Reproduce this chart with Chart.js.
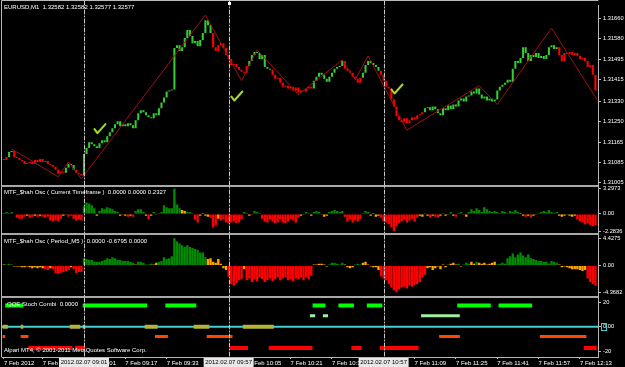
<!DOCTYPE html>
<html><head><meta charset="utf-8">
<script src="https://cdn.jsdelivr.net/npm/chart.js@4.4.0/dist/chart.umd.min.js"></script>
<style>
html,body{margin:0;padding:0;background:#000;}
#wrap{position:relative;width:625px;height:367px;background:#000;overflow:hidden;}
canvas{position:absolute;left:0;top:0;}
</style></head><body>
<div id="wrap"><canvas id="c" width="625" height="367"></canvas></div>
<script>
// ---------- DATA ----------
const symbolTitle = "EURUSD,M1  1.32582 1.32582 1.32577 1.32577";
const osc1Title = "MTF_$hah Osc ( Current Timeframe )  0.0000 0.0000 0.2327";
const osc2Title = "MTF_$hah Osc ( Period_M5 )  0.0000 -0.6795 0.0000";
const qqeTitle = "QQE Stoch Combi  0.0000";
const copyrightText = "Alpari MT4, \u00A9 2001-2011 MetaQuotes Software Corp.";

const timeTickIdx = [0,15,31,47,63,79,95,111,127,143,159,175,191,207,223];
const timeTickLabels = ["7 Feb 2012","7 Feb 08:45","7 Feb 09:01","7 Feb 09:17","7 Feb 09:33","7 Feb 09:49","7 Feb 10:05","7 Feb 10:21","7 Feb 10:37","7 Feb 10:53","7 Feb 11:09","7 Feb 11:25","7 Feb 11:41","7 Feb 11:57","7 Feb 12:13"];

const priceTicks = [1.31660,1.31580,1.31495,1.31415,1.31330,1.31250,1.31165,1.31085,1.31005];
const osc1TickValues = [3.2973, 0, -2.2836];
const osc1TickLabels = ["3.2973","0.00","-2.2836"];
const osc2TickValues = [4.4275, 0, -4.3682];
const osc2TickLabels = ["4.4275","0.00","-4.3682"];
const qqeTickValues = [20, 0, -20];
const qqeTickLabels = ["20","0.00","-20"];

const markerIdx = [31, 87, 147];
const markerLabels = ["2012.02.07 09:01","2012.02.07 09:57","2012.02.07 10:57"];

const firstOpen = 1.31099;
const closes = [
1.31095,1.31107,1.31127,1.31131,1.31107,1.31103,1.31095,1.31091,1.31079,1.31083,
1.31087,1.31079,1.31095,1.31087,1.31099,1.31087,1.31091,1.31079,1.31075,1.31068,
1.31056,1.31040,1.31048,1.31044,1.31064,1.31079,1.31075,1.31056,1.31044,1.31040,
1.31032,1.31119,1.31143,1.31166,1.31158,1.31150,1.31143,1.31162,1.31174,1.31166,
1.31190,1.31206,1.31222,1.31237,1.31249,1.31229,1.31237,1.31229,1.31241,1.31233,
1.31222,1.31253,1.31281,1.31293,1.31285,1.31273,1.31265,1.31261,1.31281,1.31273,
1.31301,1.31324,1.31344,1.31368,1.31372,1.31376,1.31542,1.31553,1.31530,1.31545,
1.31581,1.31613,1.31589,1.31561,1.31569,1.31549,1.31573,1.31601,1.31652,1.31632,
1.31601,1.31545,1.31530,1.31553,1.31561,1.31542,1.31514,1.31498,1.31474,1.31478,
1.31466,1.31455,1.31447,1.31443,1.31470,1.31490,1.31514,1.31526,1.31522,1.31498,
1.31514,1.31466,1.31459,1.31455,1.31435,1.31419,1.31423,1.31403,1.31387,1.31391,
1.31380,1.31387,1.31372,1.31384,1.31364,1.31372,1.31368,1.31380,1.31387,1.31380,
1.31411,1.31427,1.31443,1.31435,1.31419,1.31407,1.31427,1.31443,1.31459,1.31466,
1.31470,1.31490,1.31459,1.31451,1.31443,1.31427,1.31419,1.31403,1.31423,1.31443,
1.31474,1.31490,1.31482,1.31474,1.31466,1.31451,1.31435,1.31411,1.31387,1.31380,
1.31336,1.31308,1.31269,1.31253,1.31245,1.31261,1.31241,1.31253,1.31265,1.31257,
1.31273,1.31277,1.31285,1.31301,1.31305,1.31293,1.31308,1.31297,1.31281,1.31273,
1.31301,1.31293,1.31312,1.31297,1.31316,1.31308,1.31332,1.31340,1.31328,1.31348,
1.31352,1.31368,1.31360,1.31380,1.31356,1.31340,1.31348,1.31332,1.31340,1.31328,
1.31336,1.31372,1.31387,1.31395,1.31403,1.31415,1.31407,1.31459,1.31490,1.31482,
1.31502,1.31545,1.31522,1.31490,1.31514,1.31506,1.31522,1.31502,1.31510,1.31498,
1.31514,1.31545,1.31553,1.31538,1.31545,1.31514,1.31490,1.31522,1.31518,1.31526,
1.31514,1.31522,1.31510,1.31498,1.31502,1.31490,1.31466,1.31474,1.31435,1.31372
];
// trend colouring of the candles: run start index and direction
const trendRunStart = [0,2,4,24,28,31,81,95,104,120,132,139,146,163,215];
const trendRunDir   = ['d','u','d','u','d','u','d','u','d','u','d','u','d','u','d'];

const zigIdx   = [3,21,25,30,78,92,98,114,131,136,141,156,184,191,212,229.6];
const zigPrice = [1.31139,1.31028,1.31087,1.31020,1.31673,1.31411,1.31534,1.31356,1.31494,1.31415,1.31510,1.31214,1.31391,1.31316,1.31621,1.31336];

const checkIdx   = [37, 90, 152];
const checkPrice = [1.31218, 1.31348, 1.31376];

const osc1 = [
0.12,0.25,0.12,0.25,0.06,-0.50,-0.62,-0.62,-0.37,-0.25,
-0.50,-0.37,-0.25,-0.37,-0.25,-0.37,-0.50,-0.37,-0.87,-0.99,
-0.87,-0.99,-0.62,-0.25,-0.12,-0.37,-0.25,-0.62,-0.87,-0.75,
-0.87,0.99,1.49,1.37,1.12,0.75,-0.25,0.37,0.75,0.62,
0.87,0.75,0.62,0.37,0.25,-0.25,-0.12,-0.25,-0.37,-0.25,
-0.37,0.37,0.62,0.62,0.25,-0.25,-0.75,-0.25,0.25,-0.12,
0.12,0.25,1.12,0.87,0.75,0.75,3.30,1.24,0.75,0.50,
0.37,0.25,0.25,0.12,-0.75,-1.12,-0.25,0.12,-0.25,-0.37,
-0.50,-1.74,-1.49,-0.62,-0.87,-0.75,-1.12,-1.24,-1.12,-0.99,
-1.24,-1.12,-0.75,0.25,0.12,-0.25,-0.12,0.37,0.25,0.12,
-0.62,-0.99,-1.12,-0.75,-0.99,-1.24,-1.12,-0.75,-1.12,-1.24,
-0.99,-0.62,-0.87,-1.12,-0.50,-0.25,-0.12,0.25,0.12,-0.25,
0.25,0.37,0.25,-0.12,-0.37,-0.25,0.25,0.37,0.50,0.37,
0.25,0.37,-0.37,-0.99,-0.75,-1.12,-0.87,-0.99,-0.62,0.12,
0.37,0.25,-0.25,0.12,-0.37,-0.25,-0.50,-0.99,-1.12,-1.37,
-1.74,-2.28,-1.61,-1.24,-0.99,-0.75,-1.12,-0.87,-0.62,-0.99,
-0.50,-0.25,-0.37,0.12,-0.25,-0.50,-0.25,-0.37,-0.50,-0.25,
0.12,-0.25,-0.12,0.25,-0.25,-0.37,0.12,0.25,-0.12,-0.37,
0.25,0.62,0.37,0.75,0.50,0.25,0.87,0.62,0.37,0.25,
0.37,0.25,0.12,0.37,0.25,0.12,0.37,0.25,0.50,0.25,
0.12,-0.25,-0.37,-0.25,-0.50,-0.25,-0.12,0.12,0.25,0.37,
0.25,0.50,0.25,0.12,0.25,-0.25,-0.37,-0.25,-0.12,-0.25,
-0.37,-0.25,-0.75,-0.99,-1.12,-1.37,-1.24,-1.49,-1.61,-1.49
];
// g = rising (green), r = falling (red), o = neutral (orange)
const osc1State = ("ggggorrrro rrororrrrr rrroorrrrr rgggggoggg gggggoooro " +
  "rggggorogo gggggggggo ogggrroooo rrrorrrrrr rrrggooggg " +
  "rrrrrrrrrr rrrrrooggo gggooogggg ggrrrrrrrg ggoooorrrr " +
  "rrrrrrrrrr roogororro googorggoo gggggggggg gggggggggg " +
  "oororooggg gggggooooo oorrrrrrrr").replace(/ /g, "");

const osc2 = [
0.15,0.15,0.30,0.15,-0.15,-0.15,-0.15,-0.30,-0.30,-0.15,
-0.30,-0.45,-0.30,-0.45,-0.30,-0.45,-0.60,-0.75,-0.45,-0.60,
-1.20,-1.35,-1.20,-1.05,-0.90,-0.75,-0.30,-0.60,-1.20,-1.05,
-1.05,1.20,1.05,0.90,0.90,0.60,0.60,0.60,0.75,0.90,
1.20,1.05,1.35,1.20,0.90,0.90,0.75,0.75,0.75,0.60,
0.45,0.15,0.60,0.60,0.45,0.15,0.15,0.30,0.15,0.45,
0.60,0.75,1.35,1.05,1.20,1.50,4.43,3.90,3.60,3.30,
3.00,3.30,3.00,2.85,2.70,2.55,2.10,2.10,1.35,1.05,
1.20,0.60,0.45,1.05,0.30,-0.45,-0.75,-1.80,-3.00,-3.30,
-2.85,-2.40,-2.25,-0.60,-2.40,-2.10,-2.70,-2.25,-2.55,-1.95,
-2.25,-2.70,-2.40,-2.10,-2.55,-2.25,-1.95,-2.40,-2.10,-1.95,
-2.40,-2.25,-2.55,-2.10,-2.25,-1.95,-2.40,-1.95,-2.25,-1.65,
0.15,0.15,0.30,0.30,0.15,-0.15,0.15,0.45,0.45,0.30,
0.15,0.45,0.15,-0.30,-0.45,-0.30,0.15,0.30,0.15,0.45,
0.60,0.15,-0.15,-0.30,-0.30,-0.75,-1.80,-2.10,-2.40,-3.00,
-3.60,-4.05,-4.37,-3.90,-3.60,-3.45,-3.75,-3.30,-3.45,-3.15,
-3.00,-2.70,-1.95,-1.50,-0.45,-0.30,-0.75,-0.45,-0.15,-0.60,
0.15,-0.30,0.15,0.30,0.45,0.15,0.30,-0.15,0.15,0.45,
0.30,0.60,0.30,0.60,0.45,0.30,0.45,0.15,0.30,0.45,
0.60,0.15,0.30,0.45,0.30,1.20,1.50,1.95,1.35,1.80,
2.10,1.65,1.35,1.80,1.20,1.05,0.90,0.75,0.75,0.60,
0.60,0.30,0.75,0.60,0.45,0.15,-0.30,-0.15,-0.30,-0.45,
-0.60,-0.60,-0.60,-0.75,-0.90,-0.75,-2.10,-2.70,-3.00,-3.30
];
const osc2State = ("ogggoooooo oooooorror rrrrrrorrr rggggggggg gggggggggg " +
  "goggggggoo gggggggggg gggggggggo ooooooorrr rrrorrrrrr " +
  "rrrrrrrrrr rrrrrrrrrr oooooogggg ggoooogggo oooooorrrr " +
  "rrrrrrrrrr rrrroooooo oogooogogg googoooooo oggggggggg " +
  "gggggggggg gggggooooo oooooorrrr").replace(/ /g, "");

// QQE Stoch Combi signal rows: level and active bar runs [start, end]
const qqeLimeLevel = 17.5;
const qqeLimeRuns = [[1,7],[31,55],[63,74],[120,124],[130,135],[141,146],[176,188],[192,204]];
const qqePaleLevel = 9;
const qqePaleRuns = [[119,120],[124,125],[162,176]];
const qqeZeroLevel = 0;
const qqeZeroRuns = [[0,1],[7,7],[26,29],[31,31],[55,59],[74,79],[93,104]];
const qqeOrangeLevel = -8;
const qqeOrangeRuns = [[0,0],[7,9],[59,63],[79,88],[169,176],[208,225]];
const qqeRedLevel = -17.5;
const qqeRedRuns = [[10,26],[28,31],[88,94],[103,119],[135,138],[146,160],[225,229]];
const qqeBaseLevel = 0;

// ---------- BUILD ----------
const N = closes.length;
const FONT = "'Liberation Sans', Arial, sans-serif";
const trendOf = i => { let d = trendRunDir[0]; for (let k = 0; k < trendRunStart.length; k++) { if (i >= trendRunStart[k]) d = trendRunDir[k]; } return d; };
const bodyData = closes.map((c, i) => ({x: i, y: [i === 0 ? firstOpen : closes[i - 1], c]}));
const bodyColors = closes.map((c, i) => trendOf(i) === 'u' ? '#33CC33' : '#FF0000');
const stateColor = {g: '#008A00', r: '#FF0000', o: '#FFA500'};

function runsToPoints(runs, level) {
  const pts = [];
  runs.forEach(([s, e]) => { pts.push({x: s - 0.5, y: level}, {x: e + 0.5, y: level}, {x: e + 0.5, y: null}); });
  return pts;
}
const XMIN = -0.74, XMAX = 230.0;

function yAxis(weight, min, max, tickVals, labelFn) {
  return {
    type: 'linear', position: 'right', stack: 'mt4', stackWeight: weight, min, max,
    afterFit: s => { s.width = 27; },
    afterBuildTicks: s => { s.ticks = tickVals.map(v => ({value: v})); },
    ticks: { color: '#FFFFFF', font: {family: FONT, size: 5.7}, padding: 2, autoSkip: false,
      callback: (v, i) => labelFn(v, i) },
    grid: { display: true, drawOnChartArea: false, drawTicks: true, tickLength: 3, color: '#B8B8B8' },
    border: { display: true, color: '#B8B8B8' }
  };
}

const overlay = {
  id: 'overlay',
  beforeDraw(chart) {
    const ctx = chart.ctx; ctx.save(); ctx.fillStyle = '#000'; ctx.fillRect(0, 0, chart.width, chart.height); ctx.restore();
  },
  afterDatasetsDraw(chart) {
    const {ctx, scales, chartArea} = chart;
    const x = scales.x, yP = scales.yP;
    ctx.save();
    // check marks
    ctx.strokeStyle = '#A6DA2E'; ctx.lineWidth = 2; ctx.lineCap = 'round'; ctx.lineJoin = 'round';
    checkIdx.forEach((ci, k) => {
      const px = x.getPixelForValue(ci), py = yP.getPixelForValue(checkPrice[k]);
      ctx.beginPath(); ctx.moveTo(px - 5, py); ctx.lineTo(px - 2, py + 4); ctx.lineTo(px + 6, py - 5); ctx.stroke();
    });
    // panel separators
    ctx.fillStyle = '#A8A8A8';
    ['yO1', 'yO2', 'yQ'].forEach(id => { const t = Math.round(scales[id].top); ctx.fillRect(chartArea.left, t - 1, chartArea.right - chartArea.left, 2); });
    // outer frame
    ctx.strokeStyle = '#B8B8B8'; ctx.lineWidth = 1;
    ctx.beginPath(); ctx.moveTo(1.5, chartArea.bottom); ctx.lineTo(1.5, 0.5); ctx.lineTo(chartArea.right, 0.5); ctx.stroke();
    // dash-dot vertical markers
    ctx.strokeStyle = '#C8C8C8'; ctx.setLineDash([4, 2, 1, 2]);
    markerIdx.forEach(mi => { const px = Math.round(x.getPixelForValue(mi)) + 0.5; ctx.beginPath(); ctx.moveTo(px, 1); ctx.lineTo(px, chartArea.bottom); ctx.stroke(); });
    ctx.setLineDash([]);
    // selected-object handle on the second marker
    const hx = Math.round(x.getPixelForValue(markerIdx[1]));
    ctx.fillStyle = '#FFFFFF'; ctx.fillRect(hx - 1, 2, 3, 3);
    ctx.restore();
  },
  afterDraw(chart) {
    const {ctx, scales, chartArea} = chart;
    const x = scales.x;
    ctx.save();
    ctx.font = "6px " + FONT; ctx.textBaseline = 'middle'; ctx.textAlign = 'left'; ctx.fillStyle = '#FFFFFF';
    ctx.fillText(symbolTitle, 4, 7);
    ctx.fillText(osc1Title, 4, scales.yO1.top + 6.5);
    ctx.fillText(osc2Title, 4, scales.yO2.top + 7);
    ctx.fillText(qqeTitle, 7, scales.yQ.top + 8);
    ctx.fillText(copyrightText, 4, chartArea.bottom - 7);
    // cyan level box on axis
    const zy = scales.yQ.getPixelForValue(qqeBaseLevel);
    ctx.strokeStyle = '#40D0D0'; ctx.lineWidth = 1; ctx.strokeRect(601.5, Math.round(zy) - 3.5, 5, 7);
    // crosshair date boxes on the time axis
    markerIdx.forEach((mi, k) => {
      const px = x.getPixelForValue(mi);
      ctx.fillStyle = '#E8E8E8'; ctx.fillRect(px - 25, chartArea.bottom + 1, 50, 9);
      ctx.fillStyle = '#000000'; ctx.textAlign = 'center'; ctx.fillText(markerLabels[k], px, chartArea.bottom + 5.5);
    });
    ctx.restore();
  }
};

new Chart(document.getElementById('c'), {
  type: 'bar',
  data: { datasets: [
    { type: 'line', label: 'zigzag', xAxisID: 'x', yAxisID: 'yP', order: 1,
      data: zigIdx.map((v, i) => ({x: v, y: zigPrice[i]})), borderColor: '#A01010', borderWidth: 1, pointRadius: 0, tension: 0 },
    { type: 'bar', label: 'candles', xAxisID: 'x', yAxisID: 'yP', order: 5, grouped: false,
      data: bodyData, backgroundColor: bodyColors, borderWidth: 0, barPercentage: 0.8, categoryPercentage: 1, minBarLength: 1 },
    { type: 'bar', label: 'osc1', xAxisID: 'x', yAxisID: 'yO1', order: 5, grouped: false,
      data: osc1.map((v, i) => ({x: i, y: v})), backgroundColor: osc1State.split('').map(s => stateColor[s]), borderWidth: 0, barPercentage: 0.92, categoryPercentage: 1 },
    { type: 'bar', label: 'osc2', xAxisID: 'x', yAxisID: 'yO2', order: 5, grouped: false,
      data: osc2.map((v, i) => ({x: i, y: v})), backgroundColor: osc2State.split('').map(s => stateColor[s]), borderWidth: 0, barPercentage: 0.92, categoryPercentage: 1 },
    { type: 'line', label: 'qqeLime', xAxisID: 'x', yAxisID: 'yQ', order: 7, data: runsToPoints(qqeLimeRuns, qqeLimeLevel), borderColor: '#00FF00', borderWidth: 4, pointRadius: 0, spanGaps: false, borderCapStyle: 'butt' },
    { type: 'line', label: 'qqePale', xAxisID: 'x', yAxisID: 'yQ', order: 7, data: runsToPoints(qqePaleRuns, qqePaleLevel), borderColor: '#A0F0A0', borderWidth: 3, pointRadius: 0, spanGaps: false, borderCapStyle: 'butt' },
    { type: 'line', label: 'qqeOrange', xAxisID: 'x', yAxisID: 'yQ', order: 7, data: runsToPoints(qqeOrangeRuns, qqeOrangeLevel), borderColor: '#FF4500', borderWidth: 3, pointRadius: 0, spanGaps: false, borderCapStyle: 'butt' },
    { type: 'line', label: 'qqeRed', xAxisID: 'x', yAxisID: 'yQ', order: 7, data: runsToPoints(qqeRedRuns, qqeRedLevel), borderColor: '#FF0000', borderWidth: 4, pointRadius: 0, spanGaps: false, borderCapStyle: 'butt' },
    { type: 'line', label: 'qqeZero', xAxisID: 'x', yAxisID: 'yQ', order: 8, data: runsToPoints(qqeZeroRuns, qqeZeroLevel), borderColor: '#B4B43A', borderWidth: 4, pointRadius: 0, spanGaps: false, borderCapStyle: 'butt' },
    { type: 'line', label: 'qqeBase', xAxisID: 'x', yAxisID: 'yQ', order: 9, data: [{x: XMIN, y: qqeBaseLevel}, {x: XMAX, y: qqeBaseLevel}], borderColor: '#40D0D0', borderWidth: 2, pointRadius: 0 }
  ]},
  options: {
    responsive: false, animation: false, devicePixelRatio: 1, events: [],
    layout: { padding: { top: 2, left: 2, right: 0, bottom: 0 } },
    plugins: { legend: { display: false }, tooltip: { enabled: false }, title: { display: false } },
    scales: {
      x: { type: 'linear', position: 'bottom', min: XMIN, max: XMAX, offset: false,
        afterFit: s => { s.height = 10; },
        afterBuildTicks: s => { s.ticks = timeTickIdx.map(v => ({value: v})); },
        ticks: { color: '#FFFFFF', font: {family: FONT, size: 6}, align: 'start', autoSkip: false, maxRotation: 0, minRotation: 0, padding: 1,
          callback: (v, i) => timeTickLabels[i] },
        grid: { display: true, drawOnChartArea: false, drawTicks: true, tickLength: 2, color: '#B8B8B8', offset: false },
        border: { display: true, color: '#B8B8B8' } },
      yP: yAxis(182, 1.309925, 1.317114, priceTicks, v => v.toFixed(5)),
      yO1: yAxis(49, -2.66, 3.70, osc1TickValues, (v, i) => osc1TickLabels[i]),
      yO2: yAxis(63, -5.06, 5.10, osc2TickValues, (v, i) => osc2TickLabels[i]),
      yQ: yAxis(61, -24.9, 24.8, qqeTickValues, (v, i) => qqeTickLabels[i])
    }
  },
  plugins: [overlay]
});
</script>
</body></html>
